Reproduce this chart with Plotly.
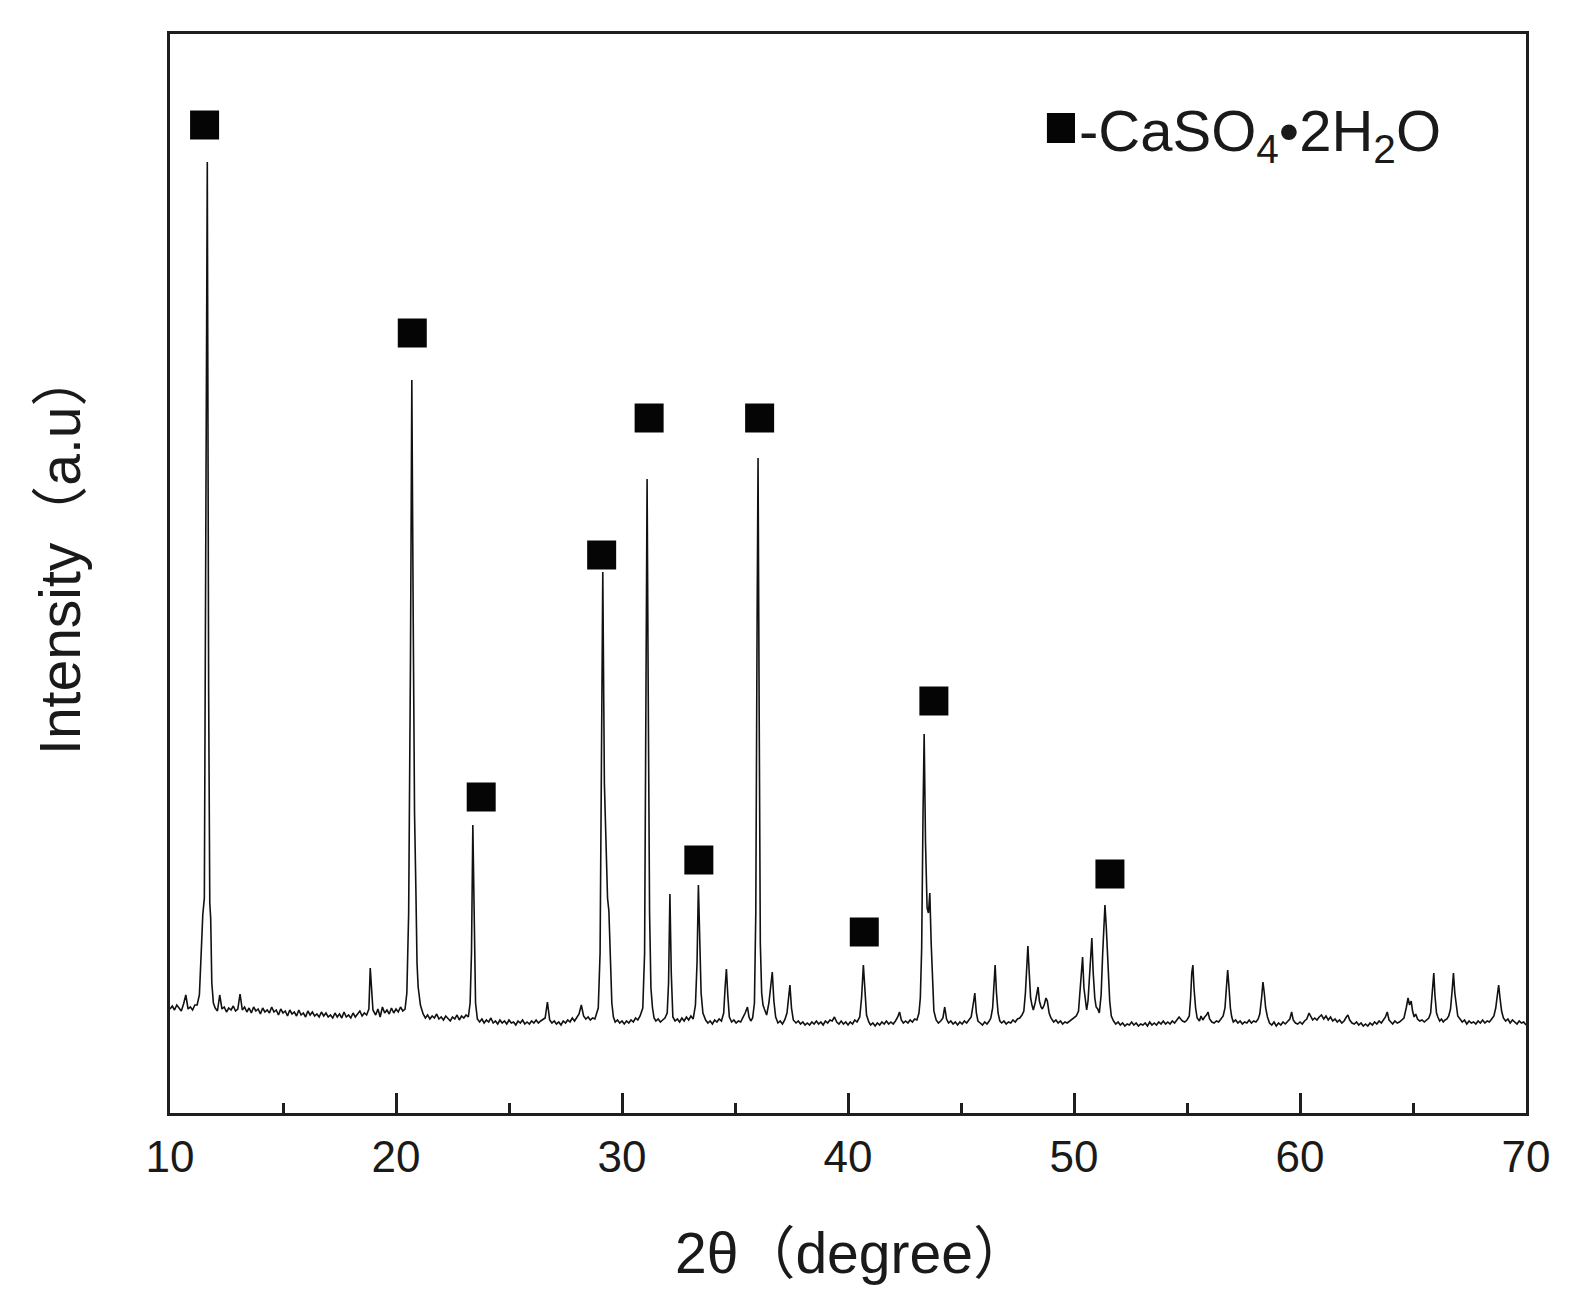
import plotly.graph_objects as go

# ---- XRD scan (2θ in degrees, intensity in arbitrary units) ----
two_theta = [
    10.0, 10.1, 10.2, 10.3, 10.4, 10.5, 10.6, 10.7, 10.8, 10.9, 11.0, 11.1, 11.2,
    11.30, 11.38, 11.45, 11.52, 11.58, 11.65, 11.71, 11.76, 11.80, 11.85, 11.92,
    12.0, 12.1, 12.2, 12.3, 12.4, 12.5, 12.6, 12.7, 12.8, 12.9, 13.0, 13.1, 13.2, 13.3, 13.4, 13.5, 13.6, 13.7, 13.8, 13.9,
    14.0, 14.1, 14.2, 14.3, 14.4, 14.5, 14.6, 14.7, 14.8, 14.9, 15.0, 15.1, 15.2, 15.3, 15.4, 15.5, 15.6, 15.7, 15.8, 15.9,
    16.0, 16.1, 16.2, 16.3, 16.4, 16.5, 16.6, 16.7, 16.8, 16.9, 17.0, 17.1, 17.2, 17.3, 17.4, 17.5, 17.6, 17.7, 17.8, 17.9,
    18.0, 18.1, 18.2, 18.3, 18.4, 18.5, 18.6, 18.7,
    18.80, 18.86, 18.92, 18.98,
    19.1, 19.2, 19.3, 19.4, 19.5, 19.6, 19.7, 19.8, 19.9, 20.0, 20.1, 20.2, 20.3,
    20.40, 20.48, 20.56, 20.64, 20.70, 20.76, 20.82, 20.88, 20.93, 20.98, 21.08,
    21.2, 21.3, 21.4, 21.5, 21.6, 21.7, 21.8, 21.9, 22.0, 22.1, 22.2, 22.3, 22.4, 22.5, 22.6, 22.7, 22.8, 22.9, 23.0, 23.1, 23.2,
    23.28, 23.34, 23.40, 23.46, 23.52,
    23.6, 23.7, 23.8, 23.9, 24.0, 24.1, 24.2, 24.3, 24.4, 24.5, 24.6, 24.7, 24.8, 24.9, 25.0, 25.1, 25.2, 25.3, 25.4, 25.5,
    25.6, 25.7, 25.8, 25.9, 26.0, 26.1, 26.2, 26.3, 26.4, 26.5, 26.6, 26.7, 26.8, 26.9, 27.0, 27.1, 27.2, 27.3, 27.4, 27.5,
    27.6, 27.7, 27.8, 27.9, 28.0, 28.1, 28.2, 28.3, 28.4, 28.5, 28.6, 28.7, 28.8,
    28.95, 29.03, 29.10, 29.15, 29.22, 29.30, 29.36, 29.42, 29.48, 29.55, 29.62,
    29.7, 29.8, 29.9, 30.0, 30.1, 30.2, 30.3, 30.4, 30.5, 30.6, 30.7, 30.8,
    30.92, 31.00, 31.06, 31.11, 31.16, 31.22, 31.28, 31.35, 31.42,
    31.5, 31.6, 31.7, 31.8, 31.9,
    32.00, 32.06, 32.12, 32.18, 32.25,
    32.35, 32.45, 32.55, 32.65, 32.75, 32.85, 32.95, 33.05, 33.15,
    33.25, 33.32, 33.38, 33.44, 33.50, 33.58,
    33.7, 33.8, 33.9, 34.0, 34.1, 34.2, 34.3, 34.4,
    34.50, 34.56, 34.62, 34.68, 34.75,
    34.85, 34.95, 35.05, 35.15, 35.25, 35.35, 35.45, 35.55, 35.62, 35.70, 35.78,
    35.86, 35.92, 35.98, 36.02, 36.07, 36.12, 36.18, 36.24, 36.30,
    36.40, 36.50, 36.58, 36.65, 36.72, 36.80,
    36.9, 37.0, 37.1, 37.2,
    37.30, 37.37, 37.43, 37.50, 37.58,
    37.7, 37.8, 37.9, 38.0, 38.1, 38.2, 38.3, 38.4, 38.5, 38.6, 38.7, 38.8, 38.9, 39.0,
    39.1, 39.2, 39.3, 39.4, 39.5, 39.6, 39.7, 39.8, 39.9, 40.0, 40.1, 40.2, 40.3, 40.4,
    40.52, 40.60, 40.68, 40.75, 40.82,
    40.92, 41.0, 41.1, 41.2, 41.3, 41.4, 41.5, 41.6, 41.7, 41.8, 41.9, 42.0, 42.1, 42.2,
    42.28, 42.36, 42.45, 42.55, 42.65, 42.75, 42.85, 42.95, 43.05,
    43.14, 43.20, 43.26, 43.32, 43.37, 43.43, 43.50, 43.56, 43.62, 43.68, 43.74, 43.80,
    43.9, 44.0, 44.1, 44.2, 44.28, 44.36, 44.45, 44.55, 44.65, 44.75, 44.85, 44.95, 45.05, 45.15, 45.25, 45.35, 45.45,
    45.55, 45.61, 45.68, 45.75,
    45.85, 45.95, 46.05, 46.15, 46.25, 46.32,
    46.40, 46.46, 46.51, 46.57, 46.64, 46.72,
    46.8, 46.9, 47.0, 47.1, 47.2, 47.3, 47.4, 47.5, 47.6, 47.7, 47.78,
    47.85, 47.91, 47.96, 48.02, 48.08, 48.14, 48.20,
    48.28, 48.35, 48.41, 48.47, 48.54, 48.60,
    48.68, 48.76, 48.82, 48.90, 48.98,
    49.1, 49.2, 49.3, 49.4, 49.5, 49.6, 49.7, 49.8, 49.9, 50.0, 50.1, 50.2,
    50.28, 50.34, 50.38, 50.44, 50.50, 50.56,
    50.62, 50.68, 50.74, 50.79, 50.85, 50.92, 50.98, 51.05, 51.12,
    51.20, 51.27, 51.32, 51.37, 51.43, 51.48, 51.53, 51.58, 51.65,
    51.75, 51.85, 51.95, 52.05, 52.15, 52.25, 52.35, 52.45, 52.55, 52.65, 52.75, 52.85, 52.95, 53.05, 53.15, 53.25, 53.35,
    53.45, 53.55, 53.65, 53.75, 53.85, 53.95, 54.05, 54.15, 54.25, 54.35, 54.45, 54.55, 54.65, 54.72, 54.80, 54.90, 55.00, 55.10,
    55.16, 55.21, 55.26, 55.31, 55.38,
    55.45, 55.55, 55.62, 55.70, 55.78, 55.86, 55.93, 56.00, 56.10, 56.20, 56.30, 56.40, 56.50, 56.60, 56.68,
    56.74, 56.80, 56.86, 56.92, 56.98,
    57.05, 57.15, 57.25, 57.35, 57.45, 57.55, 57.65, 57.75, 57.85, 57.95, 58.05, 58.15, 58.22,
    58.30, 58.36, 58.42, 58.48, 58.56,
    58.65, 58.75, 58.85, 58.95, 59.05, 59.15, 59.25, 59.35, 59.45, 59.55, 59.63, 59.70, 59.80, 59.90, 60.00, 60.10, 60.20, 60.30,
    60.40, 60.48, 60.56, 60.65, 60.75, 60.85, 60.95, 61.05, 61.15, 61.25, 61.35, 61.45, 61.55, 61.65, 61.75, 61.85, 61.95,
    62.05, 62.12, 62.20, 62.30, 62.40, 62.50, 62.60, 62.70, 62.80, 62.90, 63.00, 63.10, 63.20, 63.30, 63.40, 63.50, 63.60, 63.70,
    63.78, 63.86, 63.94, 64.02, 64.10, 64.20, 64.30, 64.40, 64.50, 64.60,
    64.70, 64.78, 64.85, 64.92, 64.98, 65.05, 65.12, 65.20, 65.30, 65.40, 65.50, 65.60, 65.70, 65.78,
    65.86, 65.92, 65.97, 66.04, 66.10, 66.18, 66.26, 66.34, 66.42, 66.50, 66.58, 66.66,
    66.73, 66.79, 66.85, 66.92, 66.98,
    67.08, 67.18, 67.28, 67.38, 67.48, 67.58, 67.68, 67.78, 67.88, 67.98, 68.08, 68.18, 68.28, 68.38, 68.48, 68.58, 68.66,
    68.73, 68.79, 68.85, 68.92, 69.00,
    69.1, 69.2, 69.3, 69.4, 69.5, 69.6, 69.7, 69.8, 69.9, 70.0,
]

intensity = [
    104, 107, 103, 108, 105, 102, 109, 118, 104, 106, 103, 108, 108,
    118, 160, 198, 215, 500, 951, 420, 210, 195, 130, 110,
    105, 102, 118, 104, 106, 101, 105, 103, 107, 102, 104, 119, 103, 106, 101, 105, 100, 106, 102, 104,
    99, 105, 101, 103, 100, 106, 101, 103, 98, 104, 100, 102, 97, 103, 99, 101, 97, 103, 98, 100,
    96, 102, 98, 101, 97, 99, 96, 101, 97, 100, 96, 98, 95, 100, 96, 99, 95, 101, 96, 98,
    95, 100, 96, 99, 102, 97, 100, 98,
    104, 145, 120, 103,
    98, 104, 96, 106, 100, 103, 99, 105, 100, 104, 101, 106, 102,
    104, 120, 200, 450, 733, 500, 300, 223, 150, 126, 108,
    99, 95, 98, 94, 97, 95, 99, 94, 96, 93, 97, 95, 92, 96, 94, 98, 93, 97, 95, 98, 96,
    110, 160, 288, 180, 110,
    94, 91, 94, 90, 93, 91, 95, 90, 92, 89, 93, 90, 92, 89, 93, 90, 91, 88, 92, 90,
    93, 89, 91, 89, 92, 90, 93, 90, 92, 94, 95, 111, 93, 90, 92, 89, 91, 88, 92, 90,
    93, 91, 95, 92, 96, 99, 108, 97, 94, 96, 93, 95, 94,
    105, 160, 400, 541, 330, 250, 215, 202, 150, 110, 96,
    91, 93, 90, 92, 89, 92, 90, 93, 91, 95, 93, 97,
    105, 160, 450, 634, 420, 200, 125, 105, 95,
    92, 94, 91, 93, 95,
    100, 130, 219, 140, 96,
    92, 94, 91, 95, 92, 96, 93, 97, 94,
    108, 150, 228, 170, 120, 100,
    93, 90, 92, 89, 93, 91, 94, 92,
    100, 125, 144, 118, 96,
    91, 93, 90, 92, 91, 95, 100, 106, 96, 92, 95,
    110, 200, 500, 655, 400, 170, 120, 108, 104,
    98, 110, 125, 141, 112, 96,
    90, 92, 89, 93,
    100, 115, 128, 105, 93,
    90, 92, 89, 91, 88, 90, 88, 91, 89, 92, 89, 91, 88, 92,
    90, 93, 92, 96, 91, 89, 92, 89, 91, 88, 91, 89, 93, 91,
    96, 115, 148, 120, 98,
    91, 88, 90, 87, 90, 88, 91, 89, 92, 89, 91, 89, 92, 96,
    101, 93, 90, 92, 90, 93, 91, 94, 93,
    100, 115, 165, 300, 379, 270, 205, 200, 220, 170, 130, 102,
    93, 90, 92, 95, 106, 94, 90, 92, 89, 91, 88, 91, 89, 92, 90, 93, 96,
    110, 120, 100, 92,
    90, 88, 91, 89, 92, 95,
    105, 125, 148, 120, 100, 92,
    90, 92, 89, 91, 90, 93, 91, 94, 95, 98, 102,
    120, 150, 167, 140, 115, 108, 103,
    110, 120, 126, 112, 106, 104,
    108, 115, 112, 100, 95,
    91, 93, 90, 92, 89, 91, 90, 92, 93, 95, 97, 102,
    125, 145, 156, 125, 110, 103,
    112, 135, 160, 175, 140, 115, 106, 104, 100,
    118, 160, 190, 208, 185, 160, 140, 112, 97,
    92, 89, 91, 88, 90, 87, 89, 88, 91, 88, 90, 87, 89, 88, 90, 87, 91,
    88, 90, 88, 91, 89, 92, 89, 91, 89, 92, 90, 93, 96, 94, 92, 91, 93, 97,
    115, 140, 148, 125, 105,
    95, 92, 97, 93, 96, 98, 101, 94, 91, 90, 92, 91, 94, 97, 105,
    125, 143, 125, 105, 96,
    91, 93, 90, 92, 89, 91, 90, 93, 90, 92, 91, 94, 99,
    115, 131, 120, 105, 96,
    90, 88, 91, 87, 90, 88, 91, 89, 92, 94, 101, 93, 90, 89, 91, 89, 92, 94,
    100, 96, 93, 95, 93, 96, 98, 94, 97, 93, 96, 92, 94, 91, 93, 90, 92,
    96, 98, 93, 90, 89, 91, 88, 90, 87, 89, 87, 90, 88, 91, 89, 92, 90, 93,
    96, 101, 93, 91, 89, 92, 90, 91, 93, 95,
    105, 115, 108, 112, 102, 96, 99, 94, 92, 93, 91, 93, 95, 100,
    120, 140, 118, 100, 96, 92, 94, 91, 93, 94, 97, 104,
    122, 140, 120, 104, 97,
    94, 91, 93, 89, 92, 90, 91, 89, 92, 90, 93, 90, 92, 91, 94, 97, 105,
    120, 128, 115, 102, 95,
    92, 94, 90, 93, 91, 89, 92, 90, 91, 88,
]

assert len(two_theta) == len(intensity)

# ---- CaSO4·2H2O reflection markers (2θ, height of the ■ above the peak) ----
marker_theta = [11.53, 20.72, 23.77, 29.10, 31.20, 33.40, 36.09, 40.72, 43.80, 51.59]
marker_height = [988, 780, 316, 558, 695, 253, 695, 181, 412, 239]

x_ticks = [10, 20, 30, 40, 50, 60, 70]
x_title = "2θ（degree）"
y_title = "Intensity（a.u）"
legend_label = "-CaSO<sub>4</sub>•2H<sub>2</sub>O"

FONT = "Liberation Sans, Arial, Noto Sans CJK SC, sans-serif"
AX = "#1e1e1e"

fig = go.Figure()
fig.add_trace(go.Scatter(
    x=two_theta, y=intensity, mode="lines",
    line=dict(color="#111111", width=1.6),
    showlegend=False, hoverinfo="skip",
))
fig.add_trace(go.Scatter(
    x=marker_theta, y=marker_height, mode="markers",
    marker=dict(symbol="square", size=29, color="#050505", line=dict(width=0)),
    showlegend=False,
))

# the page body keeps its default 8px margin, so the figure is 8px smaller than the window
fig.update_layout(
    width=1580, height=1296,
    margin=dict(l=162, r=62, t=26, b=191),
    paper_bgcolor="white", plot_bgcolor="white",
    font=dict(family=FONT, color="#1a1a1a"),
    xaxis=dict(
        range=[10, 70], tickvals=x_ticks, ticks="inside", ticklen=20, tickwidth=2.5,
        tickcolor=AX, showline=True, linewidth=3, linecolor=AX, mirror=True,
        showgrid=False, zeroline=False, tickfont=dict(size=44, color="#1a1a1a"),
        ticklabelstandoff=3,
        minor=dict(dtick=5, ticks="inside", ticklen=10, tickwidth=2.5, tickcolor=AX, showgrid=False),
    ),
    yaxis=dict(
        range=[0, 1079], showticklabels=False, ticks="", showline=True, linewidth=3,
        linecolor=AX, mirror=True, showgrid=False, zeroline=False,
    ),
    shapes=[dict(
        type="rect", xref="paper", yref="paper",
        x0=0.6467, x1=0.6674, y0=0.899, y1=0.9268,
        fillcolor="#050505", line=dict(width=0),
    )],
    annotations=[
        dict(text=legend_label, xref="paper", yref="paper", x=0.669, y=0.9065,
             xanchor="left", yanchor="middle", showarrow=False,
             font=dict(size=58, family=FONT, color="#1a1a1a")),
        dict(text=x_title, xref="paper", yref="paper", x=0.503, y=-0.130,
             xanchor="center", yanchor="middle", showarrow=False,
             font=dict(size=57, family=FONT, color="#1a1a1a")),
        dict(text=y_title, xref="paper", yref="paper", x=-0.0811, y=0.52,
             xanchor="center", yanchor="middle", showarrow=False, textangle=-90,
             font=dict(size=57, family=FONT, color="#1a1a1a")),
    ],
)

fig.write_html("out.html")
